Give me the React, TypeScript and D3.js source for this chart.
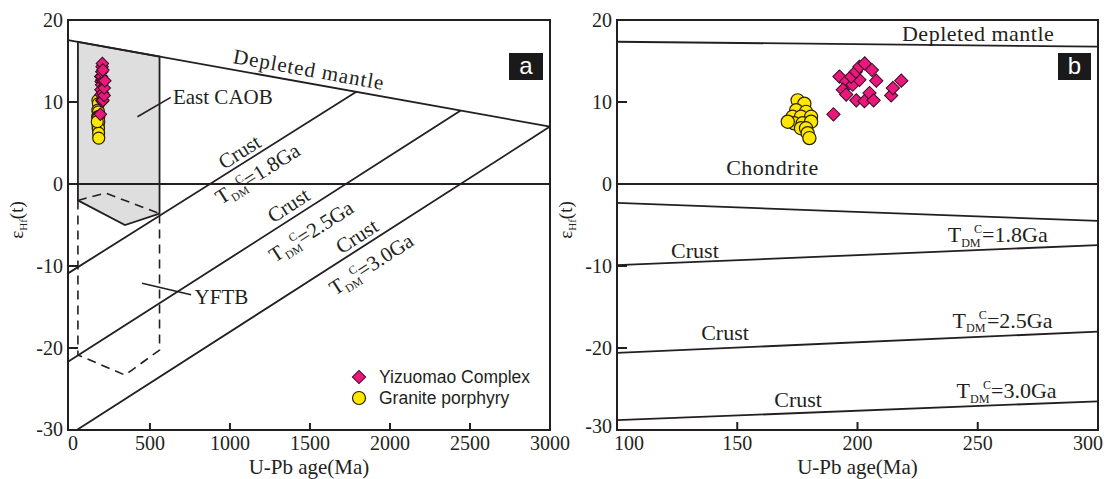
import React from "react";
import * as d3 from "d3";

// ---------- data ----------
const yizuomaoAge = [190, 192.5, 195.3, 198, 200.8, 197.4, 193.9, 195.3, 199.5, 202.9, 205, 206.7, 207.8, 214, 214.7, 218.2, 199.3, 200.8, 203, 206];
const yizuomaoEHf = [8.5, 13.1, 12.5, 12.1, 12.7, 13.1, 11.5, 10.9, 10.2, 10.1, 11.1, 10.2, 12.6, 10.8, 11.7, 12.6, 13.7, 14.3, 14.7, 13.9];
const graniteAge = [175.1, 177.9, 174.5, 178.6, 173.0, 176.5, 180.7, 173.7, 177.2, 180.7, 176.5, 178.6, 179.3, 180.0, 171.0];
const graniteEHf = [10.2, 9.8, 9.0, 8.8, 8.2, 8.2, 8.2, 7.4, 7.4, 7.6, 6.8, 6.8, 6.2, 5.6, 7.6];

const xTicksA = [0, 500, 1000, 1500, 2000, 2500, 3000];
const xTicksB = [100, 150, 200, 250, 300];
const yTicks = [20, 10, 0, -10, -20, -30];

// reference lines, panel a (age Ma, εHf)
const dmA: [number, number][] = [[-12, 17.55], [3000, 7.0]];
const chondA: [number, number][] = [[-12, 0], [3000, 0]];
const crust18A: [number, number][] = [[-12, -10.9], [1790, 11.24]];
const crust25A: [number, number][] = [[-12, -21.67], [2442, 8.95]];
const crust30A: [number, number][] = [[43, -30], [3000, 7.0]];
const eastCAOB: [number, number][] = [[50, 17.33], [560, 15.55], [560, -3.6], [344, -5.0], [50, -2.0]];
const caobInner: [number, number][] = [[50, -2.0], [221, -1.1], [560, -3.6]];
const yftb: [number, number][] = [[50, -2.0], [50, -20.85], [344, -23.3], [560, -20.25], [560, -3.6]];

// reference lines, panel b
const dmB: [number, number][] = [[100, 17.35], [300, 16.75]];
const chondB: [number, number][] = [[100, 0], [300, 0]];
const lowB: [number, number][] = [[100, -2.3], [300, -4.5]];
const crust18B: [number, number][] = [[100, -9.9], [300, -7.45]];
const crust25B: [number, number][] = [[100, -20.6], [300, -18.0]];
const crust30B: [number, number][] = [[100, -28.8], [300, -26.5]];

const crustAges = ["1.8", "2.5", "3.0"];
// label anchors panel a (centres, data units)
const crustLabelA: [number, number][] = [[1058, 3.94], [1365, -2.56], [1792, -6.34]];
const tdmLabelA: [number, number][] = [[1172, 1.3], [1507, -5.73], [1882, -9.76]];
// label anchors panel b (start, baseline, data units)
const crustLabelB: [number, number][] = [[122.5, -9.06], [135, -19.0], [165.4, -27.2]];
const tdmLabelB: [number, number][] = [[237.5, -7.07], [239.5, -17.5], [241.2, -26.1]];

// ---------- layout ----------
const W = 1111, H = 479;
const SERIF = "'Liberation Serif','Times New Roman',serif";
const SANS = "'Liberation Sans',Arial,sans-serif";
const INK = "#231f20";
const PINK = "#e8187c";
const YELLOW = "#ffe800";
const FS = 21;
const FSB = 22;
const TICK_BASE = 450;
const TITLE_BASE = 474;

const xA = d3.scaleLinear().domain([-12, 3000]).range([68, 550]);
const yA = d3.scaleLinear().domain([-30, 20]).range([430, 20]);
const xB = d3.scaleLinear().domain([100, 300]).range([617, 1098]);
const yB = yA;

type S = d3.ScaleLinear<number, number>;

function pathOf(pts: [number, number][], x: S, y: S, close = false) {
  const g = d3.line<[number, number]>().x(d => x(d[0])).y(d => y(d[1]));
  return g(pts)! + (close ? "Z" : "");
}

function angleOf(pts: [number, number][], x: S, y: S) {
  const [a, b] = pts;
  return (Math.atan2(y(b[1]) - y(a[1]), x(b[0]) - x(a[0])) * 180) / Math.PI;
}

function Tdm({ age, fs }: { age: string; fs: number }) {
  return (
    <>
      <tspan>T</tspan>
      <tspan fontSize={fs * 0.55} dy={fs * 0.22}>DM</tspan>
      <tspan fontSize={fs * 0.55} dx={-fs * 0.3} dy={-fs * 0.62}>C</tspan>
      <tspan dy={fs * 0.4}>={age}Ga</tspan>
    </>
  );
}

const diamondPath = d3.symbol().type(d3.symbolSquare).size(88)()!;
const diamondSmall = d3.symbol().type(d3.symbolSquare).size(78)()!;

function Points({ x, y, r, dpath }: { x: S; y: S; r: number; dpath: string }) {
  return (
    <g>
      {graniteAge.map((a, i) => (
        <circle key={"g" + i} cx={x(a)} cy={y(graniteEHf[i])} r={r} fill={YELLOW} stroke="#2b2200" strokeWidth={1.2} />
      ))}
      {yizuomaoAge.map((a, i) => (
        <path key={"y" + i} d={dpath} transform={`translate(${x(a)},${y(yizuomaoEHf[i])}) rotate(45)`} fill={PINK} stroke="#3a0b20" strokeWidth={1} />
      ))}
    </g>
  );
}

function YAxisLabels({ x0, lastLift }: { x0: number; lastLift: number }) {
  return (
    <g fontFamily={SERIF} fontSize={20} fill={INK}>
      {yTicks.map((t, i) => (
        <text key={t} x={x0 - 5} y={yA(t) + 7 - (i === yTicks.length - 1 ? lastLift : 0)} textAnchor="end">{t}</text>
      ))}
    </g>
  );
}

function PanelA() {
  const x = xA, y = yA;
  const [l, r] = x.range();
  const [b, t] = y.range();
  const dmAngle = angleOf(dmA, x, y);
  const crustLines = [crust18A, crust25A, crust30A];
  return (
    <g>
      <path d={pathOf(eastCAOB, x, y, true)} fill="#dedede" stroke={INK} strokeWidth={1.8} />
      <path d={pathOf(caobInner, x, y)} fill="none" stroke={INK} strokeWidth={1.6} strokeDasharray="9,6" />
      <path d={pathOf(yftb, x, y)} fill="none" stroke={INK} strokeWidth={1.6} strokeDasharray="9,6" />
      {[dmA, chondA, crust18A, crust25A, crust30A].map((p, i) => (
        <path key={i} d={pathOf(p, x, y)} fill="none" stroke={INK} strokeWidth={1.8} />
      ))}
      {/* leaders */}
      <line x1={x(422)} y1={y(8.2)} x2={x(630)} y2={y(10.57)} stroke={INK} strokeWidth={1.6} />
      <line x1={x(451)} y1={y(-12.1)} x2={x(757)} y2={y(-13.5)} stroke={INK} strokeWidth={1.6} />
      <g fontFamily={SERIF} fontSize={FS} fill={INK}>
        <text x={x(644)} y={y(9.76)}>East CAOB</text>
        <text x={x(779)} y={y(-14.6)}>YFTB</text>
        <text transform={`translate(${x(1494)},${y(14.0)}) rotate(${dmAngle})`} textAnchor="middle" dy="0.35em" letterSpacing={1}>Depleted  mantle</text>
        {crustAges.map((age, i) => {
          const ang = angleOf(crustLines[i], x, y);
          const [cx, cy] = crustLabelA[i];
          const [tx, ty] = tdmLabelA[i];
          return (
            <g key={age}>
              <text transform={`translate(${x(cx)},${y(cy)}) rotate(${ang})`} textAnchor="middle" dy="0.35em">Crust</text>
              <text transform={`translate(${x(tx)},${y(ty)}) rotate(${ang})`} textAnchor="middle" dy="0.35em">
                <Tdm age={age} fs={FS} />
              </text>
            </g>
          );
        })}
      </g>
      <Points x={x} y={y} r={6} dpath={diamondSmall} />
      {/* ticks */}
      {xTicksA.slice(1, -1).map(v => (
        <line key={v} x1={x(v)} x2={x(v)} y1={b} y2={b - 7} stroke={INK} strokeWidth={2} />
      ))}
      {yTicks.slice(1, -1).map(v => (
        <line key={v} x1={l} x2={l + 10} y1={y(v)} y2={y(v)} stroke={INK} strokeWidth={2} />
      ))}
      <rect x={l} y={t} width={r - l} height={b - t} fill="none" stroke={INK} strokeWidth={2} />
      <g fontFamily={SERIF} fontSize={20} fill={INK}>
        {xTicksA.map(v => (
          <text key={v} x={x(v) + (v === 0 ? 3 : 0)} y={TICK_BASE} textAnchor="middle">{v}</text>
        ))}
      </g>
      <YAxisLabels x0={l} lastLift={1} />
      <text x={(l + r) / 2} y={TITLE_BASE} textAnchor="middle" fontFamily={SERIF} fontSize={FS} fill={INK}>U-Pb age(Ma)</text>
      <text transform={`translate(23,220) rotate(-90)`} textAnchor="middle" fontFamily={SERIF} fontSize={19} fill={INK}>
        ε<tspan fontSize={11} dy={4}>Hf</tspan><tspan dy={-4}>(t)</tspan>
      </text>
      {/* panel tag */}
      <rect x={509} y={53} width={34} height={27} fill="#1a1a1a" />
      <text x={526} y={74} textAnchor="middle" fontFamily={SANS} fontSize={24} fill="#fff">a</text>
      {/* legend */}
      <path d={diamondPath} transform={`translate(359,377) rotate(45)`} fill={PINK} stroke="#3a0b20" strokeWidth={1} />
      <circle cx={359} cy={398} r={6.5} fill={YELLOW} stroke="#2b2200" strokeWidth={1.2} />
      <g fontFamily={SANS} fontSize={17.5} fill={INK}>
        <text x={379} y={383}>Yizuomao Complex</text>
        <text x={379} y={404}>Granite porphyry</text>
      </g>
    </g>
  );
}

function PanelB() {
  const x = xB, y = yB;
  const [l, r] = x.range();
  const [b, t] = y.range();
  return (
    <g>
      {[dmB, chondB, lowB, crust18B, crust25B, crust30B].map((p, i) => (
        <path key={i} d={pathOf(p, x, y)} fill="none" stroke={INK} strokeWidth={1.8} />
      ))}
      <g fontFamily={SERIF} fontSize={FSB} fill={INK}>
        <text x={x(218.5)} y={y(17.5)} letterSpacing={0.5}>Depleted  mantle</text>
        <text x={x(145.4)} y={y(1.1)} letterSpacing={0.5}>Chondrite</text>
        {crustAges.map((age, i) => (
          <g key={age}>
            <text x={x(crustLabelB[i][0])} y={y(crustLabelB[i][1])}>Crust</text>
            <text x={x(tdmLabelB[i][0])} y={y(tdmLabelB[i][1])}>
              <Tdm age={age} fs={FSB} />
            </text>
          </g>
        ))}
      </g>
      <Points x={x} y={y} r={6.6} dpath={diamondPath} />
      {xTicksB.slice(1, -1).map(v => (
        <line key={v} x1={x(v)} x2={x(v)} y1={b} y2={b - 8} stroke={INK} strokeWidth={2} />
      ))}
      {yTicks.slice(1, -1).map(v => (
        <line key={v} x1={l} x2={l + 10} y1={y(v)} y2={y(v)} stroke={INK} strokeWidth={2} />
      ))}
      <rect x={l} y={t} width={r - l} height={b - t} fill="none" stroke={INK} strokeWidth={2} />
      <g fontFamily={SERIF} fontSize={20} fill={INK}>
        {xTicksB.map((v, i) => {
          const first = i === 0;
          const last = i === xTicksB.length - 1;
          const px = first ? x(v) - 3 : last ? W - 8 : x(v);
          const anchor = first ? "start" : last ? "end" : "middle";
          return (
            <text key={v} x={px} y={TICK_BASE} textAnchor={anchor}>{v}</text>
          );
        })}
      </g>
      <YAxisLabels x0={l} lastLift={4} />
      <text x={(l + r) / 2} y={TITLE_BASE} textAnchor="middle" fontFamily={SERIF} fontSize={FS} fill={INK}>U-Pb age(Ma)</text>
      <text transform={`translate(572,220) rotate(-90)`} textAnchor="middle" fontFamily={SERIF} fontSize={19} fill={INK}>
        ε<tspan fontSize={11} dy={4}>Hf</tspan><tspan dy={-4}>(t)</tspan>
      </text>
      <rect x={1058} y={53} width={33} height={27} fill="#1a1a1a" />
      <text x={1074.5} y={74} textAnchor="middle" fontFamily={SANS} fontSize={24} fill="#fff">b</text>
    </g>
  );
}

export default function App() {
  return (
    <svg width={W} height={H} viewBox={`0 0 ${W} ${H}`} style={{ position: "absolute", left: 0, top: 0, background: "#fff" }}>
      <rect width={W} height={H} fill="#fff" />
      <PanelA />
      <PanelB />
    </svg>
  );
}
